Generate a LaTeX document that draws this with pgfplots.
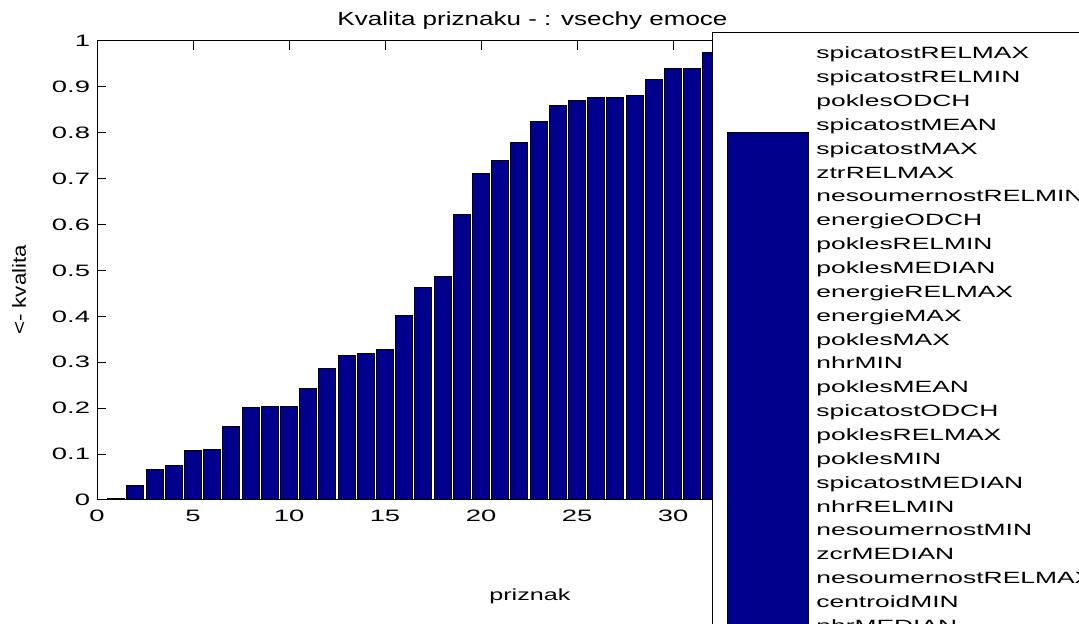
\documentclass[border=0pt]{standalone}
\usepackage{pgfplots}
\pgfplotsset{compat=1.18}
\usepackage{pgfplotstable}
\usepackage{graphicx}
\usepackage{fontspec}
\setmainfont{Liberation Sans}
\definecolor{barblue}{RGB}{0,0,140}
\newcommand{\tk}[1]{\scalebox{1.66}[1]{#1}}

\pgfplotstableread{
x y
1 0.003
2 0.032
3 0.067
4 0.075
5 0.107
6 0.110
7 0.160
8 0.201
9 0.204
10 0.204
11 0.242
12 0.287
13 0.315
14 0.319
15 0.327
16 0.403
17 0.463
18 0.486
19 0.623
20 0.711
21 0.739
22 0.778
23 0.825
24 0.860
25 0.871
26 0.877
27 0.877
28 0.882
29 0.916
30 0.940
31 0.940
32 0.975
}\datatable

\begin{document}
\begin{tikzpicture}
\begin{axis}[
  at={(0,0)}, anchor=south west,
  scale only axis, width=432pt, height=229.5pt,
  xmin=0, xmax=45, ymin=0, ymax=1,
  xtick={0,5,10,15,20,25,30},
  ytick={0,0.1,0.2,0.3,0.4,0.5,0.6,0.7,0.8,0.9,1},
  axis line style={line width=0.5pt},
  major tick length=4.5pt,
  tick style={black, line width=0.5pt},
  tick align=inside,
  /pgf/number format/assume math mode=true,
  ticklabel style={font=\fontsize{8.25}{9}\selectfont},
  xticklabel={\tk{\pgfmathprintnumber{\tick}}},
  yticklabel={\tk{\pgfmathprintnumber{\tick}}},
  xticklabel style={anchor=north, inner sep=0pt, yshift=-5pt},
  yticklabel style={anchor=east, inner sep=0pt, xshift=-3.3pt},
]
\addplot[ybar, bar width=0.88, fill=barblue, draw=black, line width=0.5pt] table[x=x,y=y]{\datatable};
\end{axis}

% legend box (MATLAB style, partly outside the figure)
\draw[line width=0.5pt, fill=white] (307.5pt,233.5pt) rectangle (600pt,-100pt);
\draw[line width=0.5pt, fill=barblue] (315pt,183.5pt) rectangle (355.5pt,-100pt);
\foreach \n [count=\i from 0] in {spicatostRELMAX,spicatostRELMIN,poklesODCH,spicatostMEAN,spicatostMAX,ztrRELMAX,nesoumernostRELMIN,energieODCH,poklesRELMIN,poklesMEDIAN,energieRELMAX,energieMAX,poklesMAX,nhrMIN,poklesMEAN,spicatostODCH,poklesRELMAX,poklesMIN,spicatostMEDIAN,nhrRELMIN,nesoumernostMIN,zcrMEDIAN,nesoumernostRELMAX,centroidMIN,nhrMEDIAN}{
  \node[anchor=base west, inner sep=0pt, font=\fontsize{8.15}{9}\selectfont] at (359.5pt,{220.6pt-11.93pt*\i}) {\scalebox{1.62}[1]{\n}};
}

% title
\node[anchor=base west, inner sep=0pt, font=\fontsize{9.5}{11}\selectfont] at (120pt,237pt) {\scalebox{1.37}[1]{Kvalita priznaku - : vsechy emoce}};
% x label
\node[anchor=base west, inner sep=0pt, font=\fontsize{8.1}{10}\selectfont] at (196pt,-50.5pt) {\scalebox{1.55}[1]{priznak}};
% y label
\node[inner sep=0pt, font=\fontsize{11.15}{13}\selectfont] at (-39pt,105pt) {\scalebox{0.85}[1]{\rotatebox{90}{<- kvalita}}};

\pgfresetboundingbox
\path[use as bounding box] (-48.5pt,-62pt) rectangle (491pt,250pt);
\end{tikzpicture}
\end{document}
